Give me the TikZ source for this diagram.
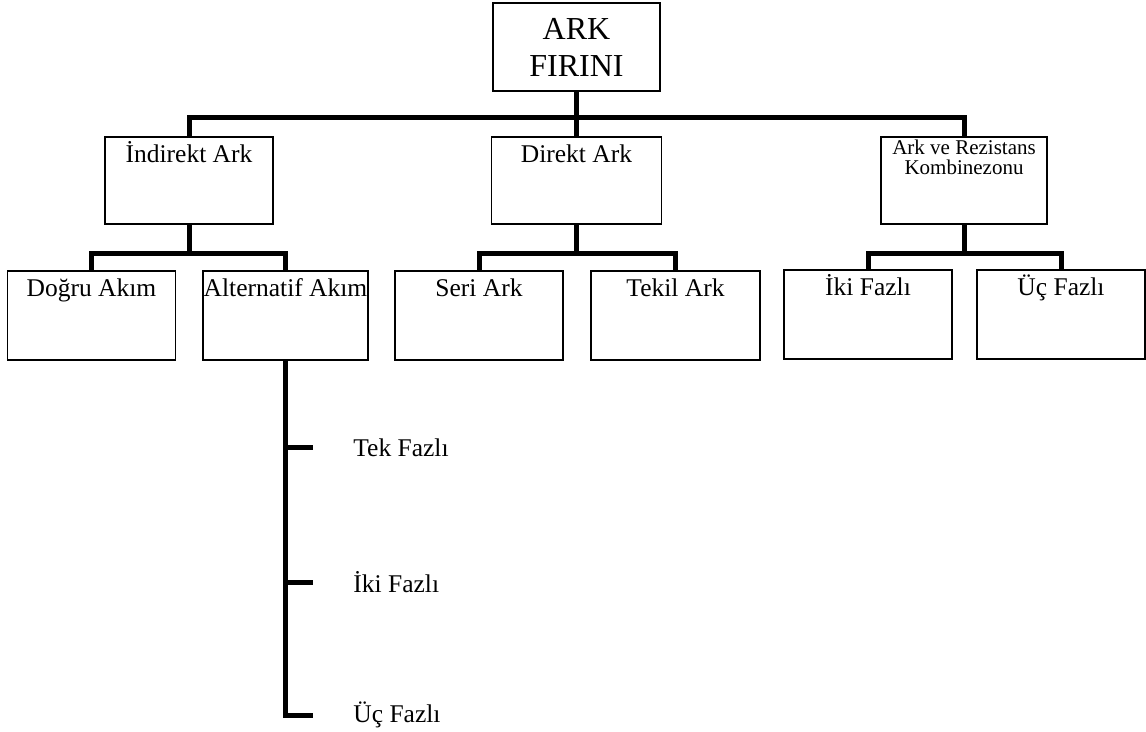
\documentclass[tikz,border=0pt]{standalone}
\usepackage{fontspec}
\setmainfont{Liberation Serif}
\tikzset{
  kutu/.style={draw, line width=0.7pt, minimum width=84pt, minimum height=43.5pt, inner sep=0pt},
  altkutu/.style={kutu, minimum height=44.5pt},
  baslik/.style={anchor=north, inner sep=0pt, yshift=-4pt, font=\fontsize{12.75}{15}\selectfont, text height=9pt, text depth=2.5pt},
  etiket/.style={anchor=west, inner sep=0pt, font=\fontsize{12.75}{15}\selectfont},
  hat/.style={line width=2.5pt}
}
\begin{document}
\begin{tikzpicture}[x=0.5pt,y=-0.5pt]
  \useasboundingbox (0,0) rectangle (1146,732);
  % ana kutu
  \node[kutu, minimum width=83.5pt, minimum height=44pt, align=center,
        font=\fontsize{16}{18.5}\selectfont] (ark) at (576.5,47) {ARK\\FIRINI};
  % ikinci seviye
  \node[kutu, label={[baslik]north:İndirekt Ark}] (ind) at (189,180.5) {};
  \node[kutu, minimum width=85pt, label={[baslik]north:Direkt Ark}] (dir) at (576.5,180.5) {};
  \node[kutu, minimum width=83pt,
        label={[anchor=north, inner sep=0pt, yshift=-1.5pt, align=center,
                font=\fontsize{10.5}{10}\selectfont]north:Ark ve Rezistans\\Kombinezonu}] (rez) at (964,180.5) {};
  % ucuncu seviye
  \node[altkutu, label={[baslik]north:Doğru Akım}] (dogru) at (91.5,315.5) {};
  \node[altkutu, minimum width=82.5pt, label={[baslik]north:Alternatif Akım}] (alt) at (285.5,315.5) {};
  \node[altkutu, label={[baslik]north:Seri Ark}] (seri) at (479,315.5) {};
  \node[altkutu, minimum width=84.5pt, label={[baslik]north:Tekil Ark}] (tekil) at (675.5,315.5) {};
  \node[altkutu, label={[baslik]north:İki Fazlı}] (iki) at (868,314.5) {};
  \node[altkutu, label={[baslik]north:Üç Fazlı}] (uc) at (1061,314.5) {};
  % alternatif akim dallari
  \node[etiket] (tekalt) at (353,448) {Tek Fazlı};
  \node[etiket] (ikialt) at (353,582) {İki Fazlı};
  \node[etiket] (ucalt) at (353,715) {Üç Fazlı};
  % baglantilar
  \coordinate (cizgi1) at (0,118);
  \coordinate (cizgi2) at (0,254);
  \draw[hat] (ind.north) |- (ark.south |- cizgi1) -| (rez.north);
  \draw[hat] (ark.south) -- (dir.north);
  \draw[hat] (dogru.north) |- (ind.south |- cizgi2) -| (alt.north);
  \draw[hat] (ind.south) -- (ind.south |- cizgi2);
  \draw[hat] (seri.north) |- (dir.south |- cizgi2) -| (tekil.north);
  \draw[hat] (dir.south) -- (dir.south |- cizgi2);
  \draw[hat] (iki.north) |- (rez.south |- cizgi2) -| (uc.north);
  \draw[hat] (rez.south) -- (rez.south |- cizgi2);
  \draw[hat, shorten >=20pt] (alt.south) |- (ucalt.west);
  \draw[hat, shorten >=20pt] (alt.south |- tekalt.west) -- (tekalt.west);
  \draw[hat, shorten >=20pt] (alt.south |- ikialt.west) -- (ikialt.west);
\end{tikzpicture}
\end{document}
